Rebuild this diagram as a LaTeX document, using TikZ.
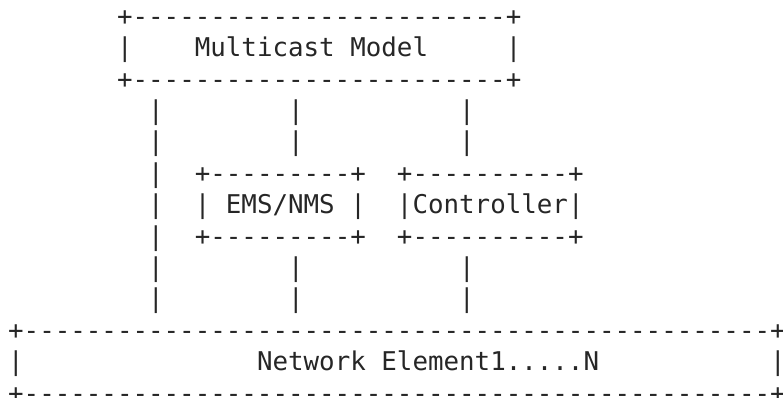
\documentclass[tikz,border=0pt]{standalone}
\usepackage{fontspec}
\newfontfamily\asciifont{DejaVu Sans Mono}[Ligatures=TeXOff]
\definecolor{ink}{RGB}{38,38,38}
\tikzset{asciitext/.style={anchor=base west, inner sep=0pt, outer sep=0pt, text=ink,
  font=\asciifont\fontsize{25.83pt}{31.4pt}\selectfont}}
% row, column, name, text
\newcommand\asciiat[4]{\node[asciitext] (#3) at ({8.2pt+#2*15.55pt},{372.7pt-(#1-1)*31.4pt}) {#4};}
\begin{document}
\begin{tikzpicture}[x=1pt,y=1pt]
\useasboundingbox (0,0) rectangle (783,398);
% Multicast Model box
\asciiat{1}{7}{mmtop}{+------------------------+}
\asciiat{2}{7}{mmleft}{|}
\asciiat{2}{12}{mm}{Multicast Model}
\asciiat{2}{32}{mmright}{|}
\asciiat{3}{7}{mmbot}{+------------------------+}
% links below the model
\asciiat{4}{9}{la4}{|}
\asciiat{4}{18}{lb4}{|}
\asciiat{4}{29}{lc4}{|}
\asciiat{5}{9}{la5}{|}
\asciiat{5}{18}{lb5}{|}
\asciiat{5}{29}{lc5}{|}
% EMS/NMS and Controller boxes
\asciiat{6}{9}{la6}{|}
\asciiat{6}{12}{emstop}{+---------+}
\asciiat{6}{25}{ctltop}{+----------+}
\asciiat{7}{9}{la7}{|}
\asciiat{7}{12}{emsleft}{|}
\asciiat{7}{14}{ems}{EMS/NMS}
\asciiat{7}{22}{emsright}{|}
\asciiat{7}{25}{ctl}{|Controller|}
\asciiat{8}{9}{la8}{|}
\asciiat{8}{12}{emsbot}{+---------+}
\asciiat{8}{25}{ctlbot}{+----------+}
% links to network elements
\asciiat{9}{9}{la9}{|}
\asciiat{9}{18}{lb9}{|}
\asciiat{9}{29}{lc9}{|}
\asciiat{10}{9}{la10}{|}
\asciiat{10}{18}{lb10}{|}
\asciiat{10}{29}{lc10}{|}
% Network Element box
\asciiat{11}{0}{netop}{+------------------------------------------------+}
\asciiat{12}{0}{neleft}{|}
\asciiat{12}{16}{ne}{Network Element1.....N}
\asciiat{12}{49}{neright}{|}
\asciiat{13}{0}{nebot}{+------------------------------------------------+}
\end{tikzpicture}
\end{document}
